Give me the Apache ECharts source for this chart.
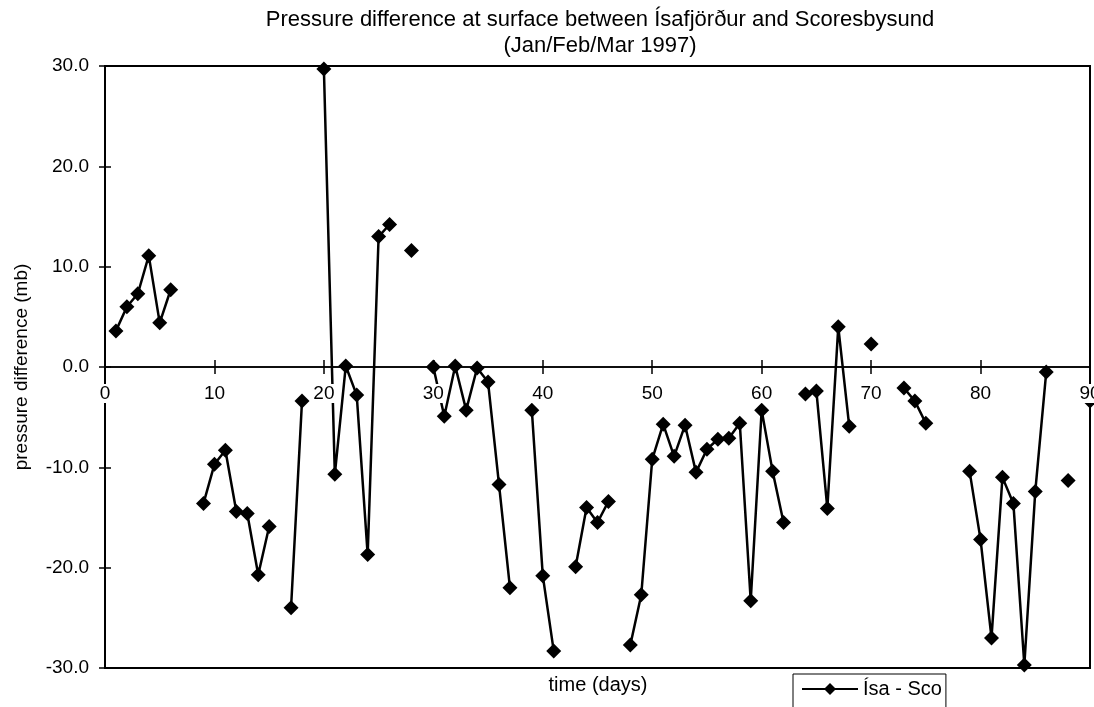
<!DOCTYPE html>
<html>
<head>
<meta charset="utf-8">
<script src="https://cdn.jsdelivr.net/npm/echarts@6/dist/echarts.min.js"></script>
<style>
  html, body { margin: 0; padding: 0; background: #fff; }
  #chart { width: 1094px; height: 707px; }
</style>
</head>
<body>
<div id="chart"></div>
<script>
// 数据：1997年1-3月每日气压差（Ísafjörður - Scoresbysund），null 为缺测
const days = [];
for (let d = 1; d <= 90; d++) days.push(d);
const pressureDiff = [
  3.6, 6.0, 7.3, 11.1, 4.4, 7.7, null, null, -13.6, -9.7,
  -8.3, -14.4, -14.6, -20.7, -15.9, null, -24.0, -3.4, null, 29.7,
  -10.7, 0.1, -2.8, -18.7, 13.0, 14.2, null, 11.6, null, 0.0,
  -4.9, 0.1, -4.3, -0.1, -1.5, -11.7, -22.0, null, -4.3, -20.8,
  -28.3, null, -19.9, -14.0, -15.5, -13.4, null, -27.7, -22.7, -9.2,
  -5.7, -8.9, -5.8, -10.5, -8.2, -7.2, -7.1, -5.6, -23.3, -4.3,
  -10.4, -15.5, null, -2.7, -2.4, -14.1, 4.0, -5.9, null, 2.3,
  null, null, -2.1, -3.4, -5.6, null, null, null, -10.4, -17.2,
  -27.0, -11.0, -13.6, -29.7, -12.4, -0.5, null, -11.3, null, -3.4
];
const xTicks = [0, 10, 20, 30, 40, 50, 60, 70, 80, 90];
const yTicks = [-30, -20, -10, 0, 10, 20, 30];
const seriesName = 'Ísa - Sco';

const font = '"Liberation Sans", Arial, sans-serif';
const chart = echarts.init(document.getElementById('chart'));

// 绘图区
const gridTop = 66, gridBottom = 39;
const plotH = 707 - gridTop - gridBottom;
// 横轴放在 y = 0 处（min -30, max 30 -> 正中）
const zeroShift = -plotH / 2;

const xBase = {
  type: 'value',
  min: xTicks[0],
  max: xTicks[xTicks.length - 1],
  interval: 10,
  splitLine: { show: false },
  axisLine: { onZero: false, lineStyle: { color: '#000', width: 1.5 } },
  axisTick: { lineStyle: { color: '#000', width: 1.5 }, length: 7 }
};
const yBase = {
  type: 'value',
  min: yTicks[0],
  max: yTicks[yTicks.length - 1],
  interval: 10,
  splitLine: { show: false },
  axisLine: { lineStyle: { color: '#000', width: 1.5 } },
  axisTick: { lineStyle: { color: '#000', width: 1.5 }, length: 6 }
};

const option = {
  backgroundColor: '#fff',
  animation: false,
  textStyle: { fontFamily: font },
  graphic: [
    {
      type: 'text', x: 600, y: 7,
      style: {
        text: 'Pressure difference at surface between Ísafjörður and Scoresbysund\n(Jan/Feb/Mar 1997)',
        fill: '#000', font: '22px ' + font, textAlign: 'center', lineHeight: 26
      }
    },
    {
      type: 'text', x: 598, y: 675,
      style: { text: 'time (days)', fill: '#000', font: '20px ' + font, textAlign: 'center' }
    }
  ],
  grid: {
    left: 105, right: 4, top: gridTop, bottom: gridBottom,
    outerBoundsMode: 'none', containLabel: false,
    show: true, borderColor: '#000', borderWidth: 2, backgroundColor: 'transparent'
  },
  legend: {
    data: [seriesName],
    left: 793, top: 674,
    padding: [5, 4, 20, 8],
    borderColor: '#000', borderWidth: 1,
    itemWidth: 56, itemHeight: 15,
    textStyle: { fontSize: 20, color: '#000', fontFamily: font }
  },
  xAxis: [
    Object.assign({}, xBase, {
      position: 'bottom', offset: zeroShift, z: 5,
      axisLabel: {
        fontSize: 19, color: '#000', margin: 17,
        backgroundColor: '#fff', padding: [0, 2],
        formatter: v => String(v)
      }
    }),
    Object.assign({}, xBase, {
      position: 'top', offset: zeroShift,
      axisLabel: { show: false }
    })
  ],
  yAxis: [
    Object.assign({}, yBase, {
      position: 'left',
      name: 'pressure difference (mb)',
      nameLocation: 'middle',
      nameGap: 74,
      nameTextStyle: { fontSize: 19, color: '#000', fontFamily: font },
      axisLabel: {
        fontSize: 19, color: '#000', margin: 16,
        formatter: v => v.toFixed(1)
      }
    }),
    Object.assign({}, yBase, {
      position: 'left',
      axisTick: { inside: true, length: 6, lineStyle: { color: '#000', width: 1.5 } },
      axisLabel: { show: false }
    })
  ],
  series: [{
    name: seriesName,
    type: 'line',
    xAxisIndex: 0,
    yAxisIndex: 0,
    data: days.map((d, i) => [d, pressureDiff[i]]),
    connectNulls: false,
    clip: false,
    symbol: 'diamond',
    symbolSize: 15,
    showAllSymbol: true,
    z: 3,
    lineStyle: { color: '#000', width: 2.5 },
    itemStyle: { color: '#000' }
  }]
};

chart.setOption(option);
</script>
</body>
</html>
